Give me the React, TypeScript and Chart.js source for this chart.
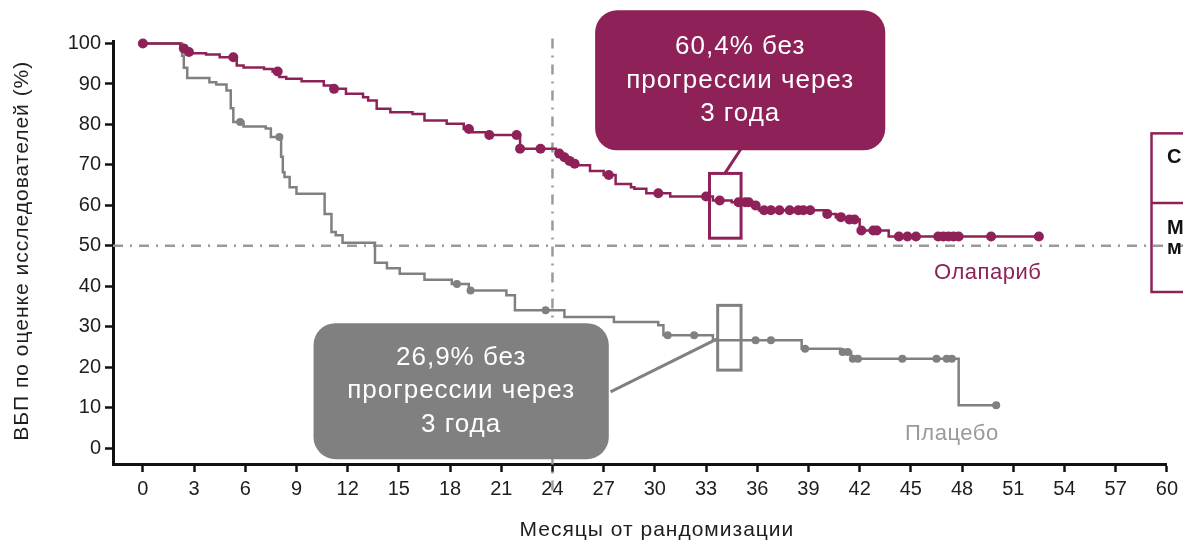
import React, { useEffect, useRef } from 'react';
import { Chart, registerables } from 'chart.js';

Chart.register(...registerables);

// ---------- data ----------
const X_TICKS = [0, 3, 6, 9, 12, 15, 18, 21, 24, 27, 30, 33, 36, 39, 42, 45, 48, 51, 54, 57, 60];
const Y_TICKS = [0, 10, 20, 30, 40, 50, 60, 70, 80, 90, 100];

const OLA_TIMES = [0, 2.2, 2.5, 2.8, 3.7, 4.5, 5.5, 5.9, 7.1, 7.6, 8.0, 8.4, 9.3, 10.6, 11.1, 11.9, 12.9, 13.2, 13.7, 14.5, 15.8, 16.5, 17.8, 18.8, 19.3, 20.2, 22.1, 24.2, 24.5, 24.8, 25.1, 25.4, 26.2, 27.0, 27.7, 28.6, 28.8, 29.5, 30.9, 33.4, 34.5, 35.8, 36.1, 40.1, 40.6, 41.3, 42.0, 43.7, 52.7];
const OLA_SURV = [100, 98.8, 97.9, 97.6, 97.3, 96.6, 94.6, 94.1, 93.7, 93.1, 91.7, 91.3, 90.7, 89.6, 88.8, 87.6, 86.7, 85.9, 83.9, 83.0, 82.6, 81.0, 80.2, 78.9, 78.1, 77.4, 74.0, 72.8, 71.9, 71.0, 70.3, 69.9, 68.5, 67.5, 65.3, 64.5, 64.1, 63.0, 62.2, 61.2, 60.8, 60.0, 58.8, 57.9, 57.1, 56.5, 53.8, 52.3, 52.3];
const OLA_CENSORS = [0, 2.4, 2.7, 5.3, 7.9, 11.2, 19.1, 20.3, 21.9, 22.1, 23.3, 24.4, 24.7, 25.0, 25.3, 27.3, 30.2, 33.0, 33.8, 34.9, 35.3, 35.5, 35.9, 36.4, 36.8, 37.3, 37.9, 38.4, 38.7, 39.1, 40.1, 40.9, 41.4, 41.7, 42.1, 42.8, 43.0, 44.3, 44.8, 45.3, 46.6, 46.9, 47.2, 47.5, 47.8, 49.7, 52.5];

const PBO_TIMES = [0, 2.3, 2.4, 2.6, 3.9, 4.3, 4.9, 5.15, 5.3, 5.9, 7.2, 7.5, 8.1, 8.2, 8.3, 8.6, 9.0, 10.65, 11.05, 11.3, 11.7, 13.6, 14.3, 15.05, 16.5, 18.1, 19.1, 21.3, 21.8, 24.7, 27.6, 30.2, 30.5, 33.4, 38.6, 40.9, 41.5, 47.8, 50.0];
const PBO_SURV = [100, 97, 94, 91.5, 90.4, 89.9, 88.4, 84, 80.6, 79.5, 79.0, 76.9, 72, 68.2, 67.0, 64.5, 62.9, 57.9, 53.4, 52.6, 50.8, 45.8, 44.5, 43.1, 41.6, 40.6, 39.0, 37.8, 34.1, 32.4, 31.2, 30.4, 27.9, 26.7, 24.6, 23.8, 22.1, 10.6, 10.6];
const PBO_CENSORS = [5.7, 8.0, 18.4, 19.2, 23.6, 30.75, 32.3, 35.9, 36.8, 38.8, 41.0, 41.3, 41.6, 41.9, 44.5, 46.5, 47.1, 47.4, 50.0];

const REF_MONTH = 24;
const REF_SURV = 50;

const OLA_CALLOUT = ['60,4% без', 'прогрессии через', '3 года'];
const PBO_CALLOUT = ['26,9% без', 'прогрессии через', '3 года'];
const OLA_LABEL = 'Олапариб';
const PBO_LABEL = 'Плацебо';
const X_TITLE = 'Месяцы от рандомизации';
const Y_TITLE = 'ВБП по оценке исследователей (%)';
const TABLE_TEXT = ['С', 'М', 'м'];

// ---------- styles ----------
const MAROON = '#8e2157';
const GRAY = '#808080';
const LIGHT_GRAY = '#9a9a9a';
const TEXT = '#1e1e1e';
const FONT = '"Liberation Sans", Arial, sans-serif';

function survAt(times: number[], surv: number[], t: number) {
  let v = surv[0];
  for (let i = 0; i < times.length; i++) if (times[i] <= t) v = surv[i];
  return v;
}

const refLinesPlugin = {
  id: 'refLines',
  beforeDatasetsDraw(chart: any) {
    const { ctx, chartArea, scales } = chart;
    const x = scales.x, y = scales.y;
    ctx.save();
    ctx.strokeStyle = LIGHT_GRAY;
    ctx.lineWidth = 2.5;
    ctx.setLineDash([10, 7, 2, 7]);
    const y50 = y.getPixelForValue(REF_SURV);
    ctx.beginPath();
    ctx.moveTo(chartArea.left, y50);
    ctx.lineTo(chart.width, y50);
    ctx.stroke();
    const x24 = x.getPixelForValue(REF_MONTH);
    ctx.beginPath();
    ctx.moveTo(x24, chartArea.top - 3);
    ctx.lineTo(x24, chartArea.bottom + 27);
    ctx.stroke();
    ctx.restore();
  },
};

function callout(ctx: any, x1: number, y1: number, x2: number, y2: number, color: string, lines: string[]) {
  ctx.fillStyle = color;
  ctx.beginPath();
  ctx.roundRect(x1, y1, x2 - x1, y2 - y1, 22);
  ctx.fill();
  ctx.fillStyle = '#ffffff';
  ctx.font = `26px ${FONT}`;
  ctx.letterSpacing = '1px';
  ctx.textAlign = 'center';
  ctx.textBaseline = 'middle';
  const cx = (x1 + x2) / 2;
  const cy = (y1 + y2) / 2;
  const lh = 33.5;
  lines.forEach((l, i) => ctx.fillText(l, cx, cy + (i - (lines.length - 1) / 2) * lh));
  ctx.letterSpacing = '0px';
}

const annotationsPlugin = {
  id: 'annotations',
  afterDatasetsDraw(chart: any) {
    const { ctx, chartArea, scales } = chart;
    const X = (v: number) => scales.x.getPixelForValue(v);
    const Y = (v: number) => scales.y.getPixelForValue(v);
    ctx.save();
    ctx.setLineDash([]);

    // maroon callout + marker
    callout(ctx, X(26.5), Y(108.2), X(43.5), Y(73.6), MAROON, OLA_CALLOUT);
    ctx.strokeStyle = MAROON;
    ctx.lineWidth = 3;
    ctx.beginPath();
    ctx.moveTo(X(35.05), Y(74.0));
    ctx.lineTo(X(34.1), Y(67.9));
    ctx.stroke();
    ctx.strokeRect(X(33.2), Y(67.9), X(35.05) - X(33.2), Y(51.9) - Y(67.9));

    // gray callout + marker
    callout(ctx, X(10.0), Y(30.9), X(27.3), Y(-2.7), GRAY, PBO_CALLOUT);
    ctx.strokeStyle = GRAY;
    ctx.lineWidth = 3;
    ctx.beginPath();
    ctx.moveTo(X(27.4), Y(13.9));
    ctx.lineTo(X(33.68), Y(27.1));
    ctx.stroke();
    ctx.strokeRect(X(33.68), Y(35.3), X(35.05) - X(33.68), Y(19.3) - Y(35.3));

    // series labels
    ctx.font = `22px ${FONT}`;
    ctx.letterSpacing = '0.5px';
    ctx.textAlign = 'center';
    ctx.textBaseline = 'middle';
    ctx.fillStyle = MAROON;
    ctx.fillText(OLA_LABEL, X(49.5), Y(43.4));
    ctx.fillStyle = LIGHT_GRAY;
    ctx.fillText(PBO_LABEL, X(47.4), Y(3.5));

    // axis titles
    ctx.font = `21px ${FONT}`;
    ctx.letterSpacing = '1px';
    ctx.fillStyle = TEXT;
    ctx.fillText(X_TITLE, (chartArea.left + chartArea.right) / 2 + 17, 530);
    ctx.save();
    ctx.translate(22, (chartArea.top + chartArea.bottom) / 2 - 2);
    ctx.rotate(-Math.PI / 2);
    ctx.fillText(Y_TITLE, 0, 0);
    ctx.restore();
    ctx.letterSpacing = '0px';

    // clipped table at the right edge
    ctx.strokeStyle = MAROON;
    ctx.lineWidth = 2.5;
    const tl = X(59.1);
    ctx.strokeRect(tl, Y(77.8), 200, Y(38.6) - Y(77.8));
    ctx.beginPath();
    ctx.moveTo(tl, Y(60.6));
    ctx.lineTo(chart.width + 10, Y(60.6));
    ctx.stroke();
    ctx.fillStyle = '#111';
    ctx.font = `bold 20px ${FONT}`;
    ctx.textAlign = 'left';
    ctx.fillText(TABLE_TEXT[0], X(60.0), Y(71.8));
    ctx.fillText(TABLE_TEXT[1], X(60.0), Y(54.4));
    ctx.fillText(TABLE_TEXT[2], X(60.0), Y(49.4));
    ctx.restore();
  },
};

export default function App() {
  const ref = useRef<HTMLCanvasElement | null>(null);

  useEffect(() => {
    document.body.style.margin = '0';
    const canvas = ref.current;
    if (!canvas) return;

    const olaLine = OLA_TIMES.map((t, i) => ({ x: t, y: OLA_SURV[i] }));
    const olaCens = OLA_CENSORS.map((t) => ({ x: t, y: survAt(OLA_TIMES, OLA_SURV, t) }));
    const pboLine = PBO_TIMES.map((t, i) => ({ x: t, y: PBO_SURV[i] }));
    const pboCens = PBO_CENSORS.map((t) => ({ x: t, y: survAt(PBO_TIMES, PBO_SURV, t) }));

    const tickFont = { family: FONT, size: 20 };

    const chart = new Chart(canvas, {
      type: 'line',
      data: {
        datasets: [
          { data: olaCens, showLine: false, pointRadius: 5, pointHoverRadius: 5, pointBackgroundColor: MAROON, pointBorderWidth: 0, clip: false } as any,
          { data: olaLine, stepped: true, borderColor: MAROON, borderWidth: 2.5, pointRadius: 0, fill: false, clip: false } as any,
          { data: pboCens, showLine: false, pointRadius: 4, pointHoverRadius: 4, pointBackgroundColor: GRAY, pointBorderWidth: 0, clip: false } as any,
          { data: pboLine, stepped: true, borderColor: GRAY, borderWidth: 2.5, pointRadius: 0, fill: false, clip: false } as any,
        ],
      },
      options: {
        animation: false,
        responsive: false,
        devicePixelRatio: 1,
        parsing: false as any,
        layout: { padding: { top: 41.5, right: 15, left: 0, bottom: 0 } },
        plugins: { legend: { display: false }, tooltip: { enabled: false } },
        events: [],
        scales: {
          x: {
            type: 'linear',
            min: -1.75,
            max: 60,
            afterBuildTicks: (s: any) => { s.ticks = X_TICKS.map((v) => ({ value: v })); },
            afterFit: (s: any) => { s.height = 79; },
            ticks: { font: tickFont, color: TEXT, maxRotation: 0, autoSkip: false, padding: 5 },
            grid: { drawOnChartArea: false, tickLength: 8, tickWidth: 2.5, tickColor: '#111' },
            border: { color: '#111', width: 3 },
          },
          y: {
            type: 'linear',
            min: -3.9,
            max: 100.5,
            afterBuildTicks: (s: any) => { s.ticks = Y_TICKS.map((v) => ({ value: v })); },
            afterFit: (s: any) => { s.width = 113; },
            ticks: { font: tickFont, color: TEXT, padding: 4 },
            grid: { drawOnChartArea: false, tickLength: 8, tickWidth: 2.5, tickColor: '#111' },
            border: { color: '#111', width: 3 },
          },
        },
      } as any,
      plugins: [refLinesPlugin, annotationsPlugin],
    });
    return () => chart.destroy();
  }, []);

  return (
    <div style={{ width: 1183, height: 543 }}>
      <canvas ref={ref} width={1183} height={543} style={{ display: 'block' }} />
    </div>
  );
}
